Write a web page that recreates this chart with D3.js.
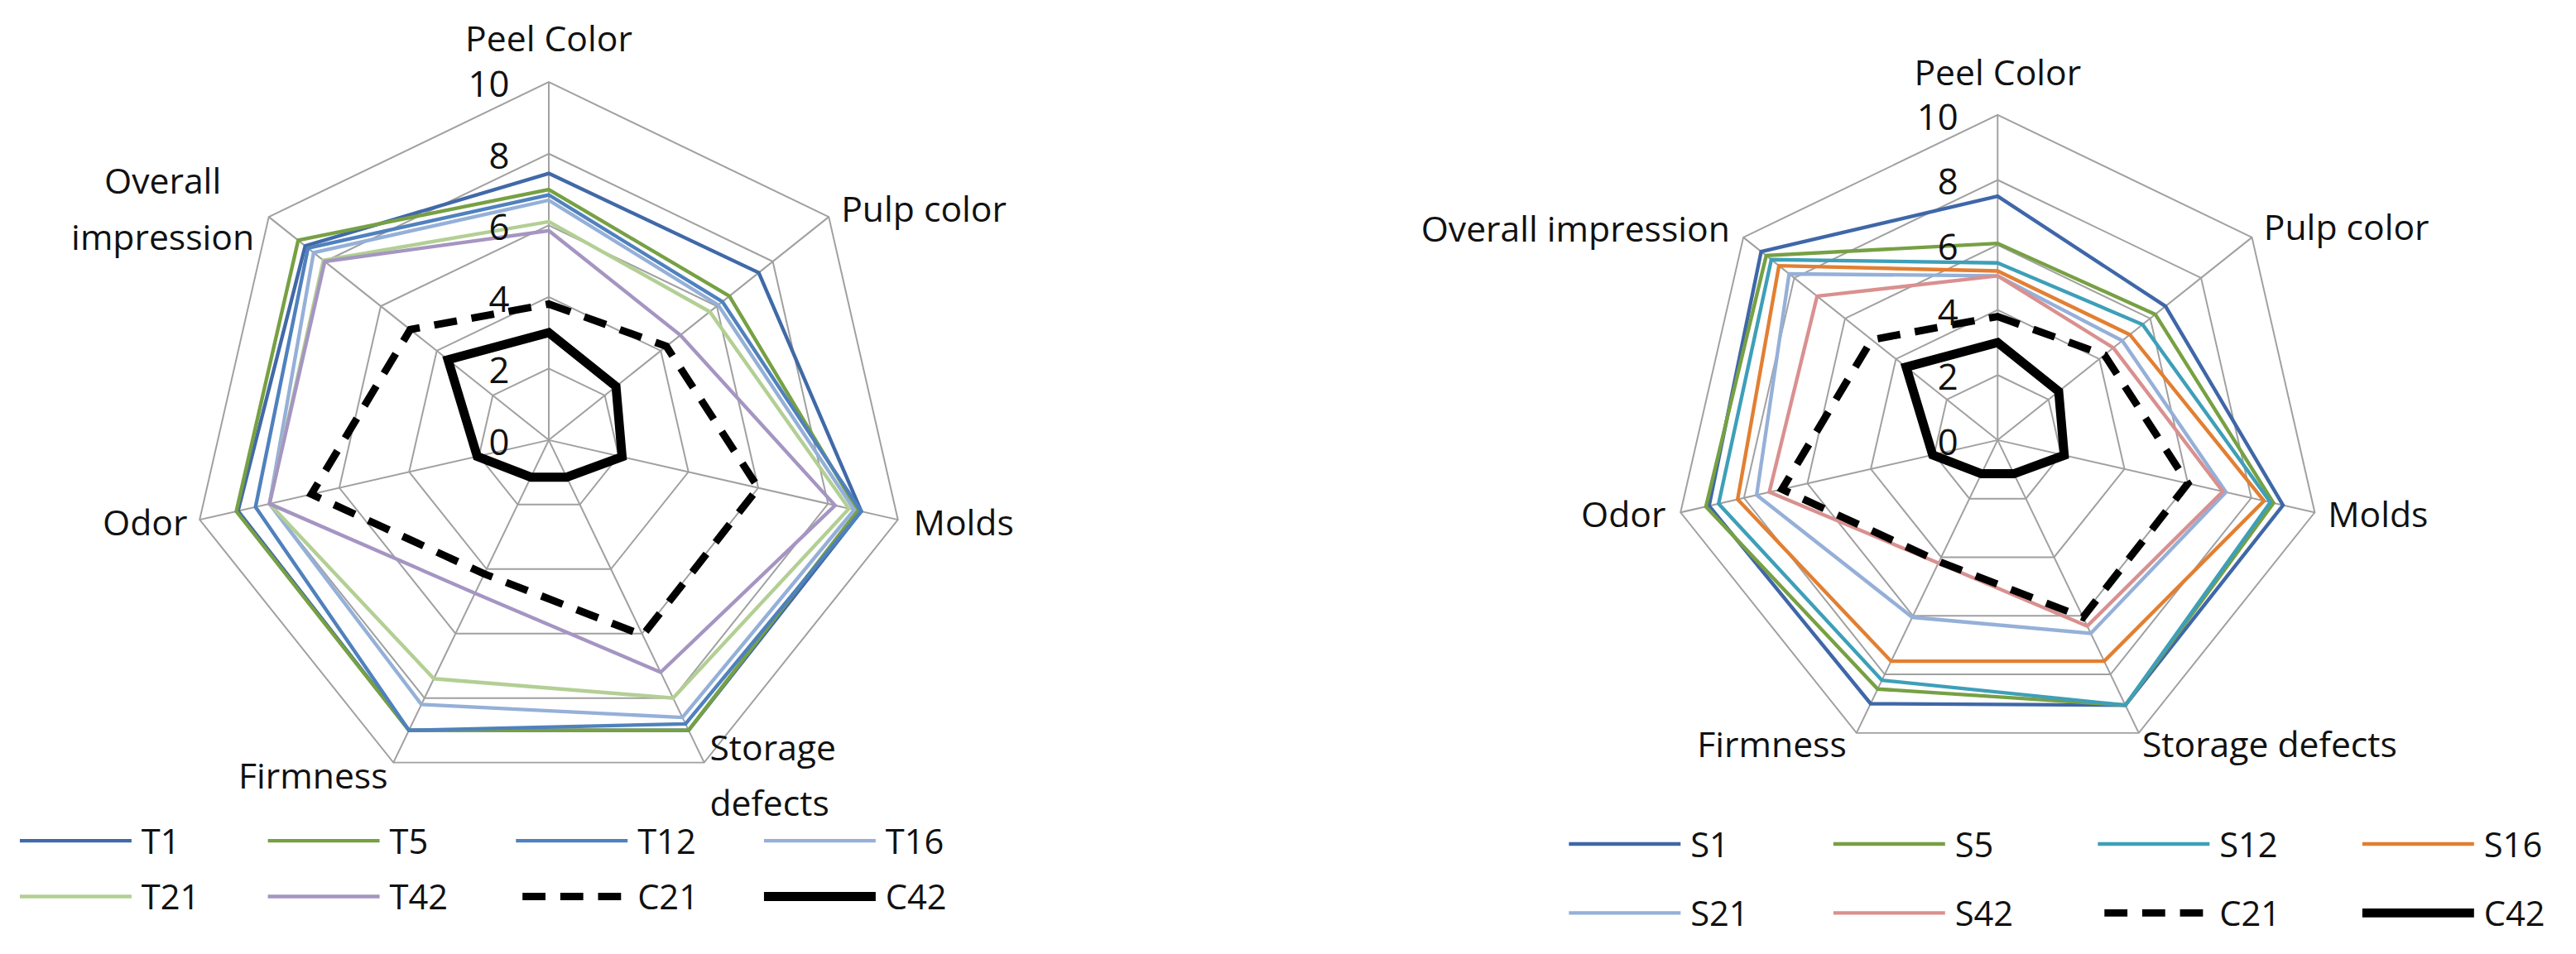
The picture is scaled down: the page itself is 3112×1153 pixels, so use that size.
<!DOCTYPE html>
<html>
<head>
<meta charset="utf-8">
<script src="https://cdnjs.cloudflare.com/ajax/libs/d3/7.8.5/d3.min.js"></script>
<style>
  body { margin: 0; background: #fff; }
  text { font-family: "Open Sans", "Noto Sans", sans-serif; fill: #111; }
</style>
</head>
<body>
<svg id="canvas"></svg>
<script>
const axes = ["Peel Color", "Pulp color", "Molds", "Storage defects", "Firmness", "Odor", "Overall impression"];
const ticks = [0, 2, 4, 6, 8, 10];

// left chart series
const tNames = ["T1", "T5", "T12", "T16", "T21", "T42", "C21", "C42"];
const T1 = [7.45, 7.5, 8.95, 9.0, 9.0, 8.9, 8.7];
const T5 = [7.0, 6.45, 8.85, 9.0, 9.0, 8.95, 8.95];
const T12 = [6.85, 6.2, 8.95, 8.8, 9.0, 8.4, 8.6];
const T16 = [6.7, 6.05, 8.75, 8.6, 8.2, 8.0, 8.4];
const T21 = [6.1, 5.75, 8.6, 8.0, 7.4, 8.0, 8.05];
const T42 = [5.85, 4.7, 8.2, 7.2, 4.75, 8.0, 8.0];
const C21 = [3.8, 4.2, 6.0, 6.05, 4.15, 6.8, 4.95];
const C42 = [3.0, 2.4, 2.1, 1.15, 1.15, 2.05, 3.6];

// right chart series
const sNames = ["S1", "S5", "S12", "S16", "S21", "S42", "C21", "C42"];
const S1 = [7.5, 6.6, 9.0, 9.05, 9.0, 9.1, 9.3];
const S5 = [6.05, 6.2, 8.7, 9.05, 8.5, 9.2, 9.1];
const S12 = [5.45, 5.7, 8.6, 9.05, 8.2, 8.8, 8.9];
const S16 = [5.2, 5.2, 8.4, 7.55, 7.55, 8.2, 8.6];
const S21 = [5.05, 4.9, 7.2, 6.6, 6.05, 7.6, 8.2];
const S42 = [5.05, 4.55, 7.1, 6.35, 4.2, 7.2, 7.1];

const tColors = ["#4169a8", "#77a043", "#4f81bd", "#95b0d8", "#b3cf94", "#a595c2", "#000", "#000"];
const sColors = ["#3f67a8", "#77a043", "#3e9fb8", "#e27f32", "#95b0d8", "#d9908f", "#000", "#000"];

const W = 1568, H = 581;
const svg = d3.select("#canvas")
  .attr("width", 3112).attr("height", 1153)
  .attr("viewBox", `0 0 ${W} ${H}`);

const angle = (i) => (i * 2 * Math.PI) / axes.length;

const styleLine = (sel, n) => {
  if (n == "C21") sel.attr("stroke-width", 4.5).attr("stroke-dasharray", "14,9");
  else if (n == "C42") sel.attr("stroke-width", 5.5);
  else sel.attr("stroke-width", 2.2);
};

const drawRadar = (cx, cy, R, names, series, colors, labelPos, legendX, legendStep, legendY) => {
  const g = svg.append("g").attr("transform", `translate(${cx},${cy})`);
  const r = d3.scaleLinear().domain([0, 10]).range([0, R]);
  const pt = (v, i) => [r(v) * Math.sin(angle(i)), -r(v) * Math.cos(angle(i))];

  // grid rings
  ticks.slice(1).forEach((t) => {
    g.append("path")
      .attr("d", d3.line()(axes.map((a, i) => pt(t, i))) + "Z")
      .attr("fill", "none").attr("stroke", "#a0a0a0").attr("stroke-width", 1);
  });
  axes.forEach((a, i) => {
    const [x, y] = pt(10, i);
    g.append("line").attr("x1", 0).attr("y1", 0).attr("x2", x).attr("y2", y)
      .attr("stroke", "#a0a0a0").attr("stroke-width", 1);
  });

  // series
  const line = d3.line();
  series.forEach((s, k) => {
    const p = g.append("path")
      .attr("d", line(s.map((v, i) => pt(v, i))) + "Z")
      .attr("fill", "none").attr("stroke", colors[k])
      .attr("stroke-linejoin", "miter");
    styleLine(p, names[k]);
  });

  // tick labels
  ticks.forEach((t) => {
    g.append("text").attr("x", -24).attr("y", -r(t) + 9)
      .attr("text-anchor", "end").attr("font-size", 22).text(t);
  });

  // axis labels
  labelPos.forEach((lp) => {
    const t = g.append("text").attr("text-anchor", lp.anchor).attr("font-size", 21.5);
    lp.lines.forEach((ln, j) => {
      t.append("tspan").attr("x", lp.x).attr("y", lp.y + j * 34).text(ln);
    });
  });

  // legend
  names.forEach((n, k) => {
    const x = legendX + (k % 4) * legendStep;
    const y = legendY[Math.floor(k / 4)];
    const l = svg.append("line").attr("x1", x).attr("x2", x + 68).attr("y1", y).attr("y2", y)
      .attr("stroke", colors[k]);
    styleLine(l, n);
    if (n == "C21") l.attr("x1", x + 4);
    svg.append("text").attr("x", x + 74).attr("y", y + 8).attr("font-size", 21).text(n);
  });
};

drawRadar(334, 268, 218, tNames, [T1, T5, T12, T16, T21, T42, C21, C42], tColors, [
  { x: 0, y: -237, anchor: "middle", lines: ["Peel Color"] },
  { x: 178, y: -133, anchor: "start", lines: ["Pulp color"] },
  { x: 222, y: 58, anchor: "start", lines: ["Molds"] },
  { x: 98, y: 195, anchor: "start", lines: ["Storage", "defects"] },
  { x: -98, y: 212, anchor: "end", lines: ["Firmness"] },
  { x: -220, y: 58, anchor: "end", lines: ["Odor"] },
  { x: -235, y: -150, anchor: "middle", lines: ["Overall", "impression"] },
], 12, 151, [512, 546]);

drawRadar(1216, 268, 198, sNames, [S1, S5, S12, S16, S21, S42, C21, C42], sColors, [
  { x: 0, y: -216, anchor: "middle", lines: ["Peel Color"] },
  { x: 162, y: -122, anchor: "start", lines: ["Pulp color"] },
  { x: 201, y: 53, anchor: "start", lines: ["Molds"] },
  { x: 88, y: 193, anchor: "start", lines: ["Storage defects"] },
  { x: -92, y: 193, anchor: "end", lines: ["Firmness"] },
  { x: -202, y: 53, anchor: "end", lines: ["Odor"] },
  { x: -163, y: -121, anchor: "end", lines: ["Overall impression"] },
], 955, 161, [514, 556]);
</script>
</body>
</html>
